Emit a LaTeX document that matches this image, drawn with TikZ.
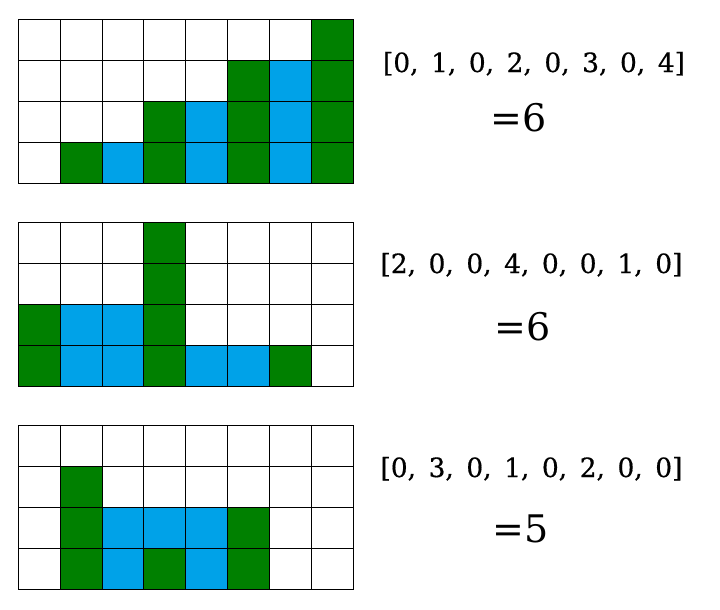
\documentclass[tikz,border=0pt]{standalone}
\usepackage{fontspec}
\setmainfont{DejaVu Serif}
\newfontfamily\heavyserif{DejaVu Serif}[FakeBold=0.5]
\definecolor{wallgreen}{HTML}{008000}
\definecolor{waterblue}{HTML}{00A2E8}
\newcommand\cellw{41.875}
\newcommand\cellh{41}
\newcommand\gridleft{18.3}
\newcommand\listfont{\heavyserif\fontsize{26.5}{30}\selectfont}
\newcommand\sumfont{\fontsize{38}{44}\selectfont}
\newcommand\widelist[1]{\begingroup\spaceskip=12.5pt\relax #1\endgroup}
% #1 = top y, #2 = list of green/blue heights per column
\newcommand\drawtank[2]{%
  \foreach \g/\b [count=\i from 0] in {#2}{%
    \pgfmathsetmacro\xa{\gridleft+\i*\cellw}%
    \pgfmathsetmacro\ybot{#1+4*\cellh}%
    \ifnum\g>0
      \fill[wallgreen] (\xa,\ybot) rectangle ++(\cellw,-\g*\cellh);
    \fi
    \ifnum\b>0
      \fill[waterblue] (\xa,\ybot-\g*\cellh) rectangle ++(\cellw,-\b*\cellh);
    \fi
  }%
  \foreach \i in {0,...,7}{%
    \foreach \j in {0,...,3}{%
      \draw[gridline] (\gridleft+\i*\cellw,#1+\j*\cellh) rectangle ++(\cellw,\cellh);
    }%
  }%
}
\begin{document}
\begin{tikzpicture}[x=1pt,y=-1pt,
  gridline/.style={draw=black,line width=1pt},
  listtext/.style={inner sep=0pt,anchor=base,font=\listfont},
  sumtext/.style={inner sep=0pt,anchor=base,font=\sumfont}]
\useasboundingbox[fill=white] (0,0) rectangle (720,610);

\drawtank{19.3}{0/0,1/0,0/1,2/0,0/2,3/0,0/3,4/0}
\drawtank{222.3}{2/0,0/2,0/2,4/0,0/1,0/1,1/0,0/0}
\drawtank{425}{0/0,3/0,0/2,1/1,0/2,2/0,0/0,0/0}

\node[listtext] (list1) at (534,72) {\widelist{[0, 1, 0, 2, 0, 3, 0, 4]}};
\node[sumtext] (sum1) at (519,131) {=6};
\node[listtext] (list2) at (531.5,273) {\widelist{[2, 0, 0, 4, 0, 0, 1, 0]}};
\node[sumtext] (sum2) at (523,340) {=6};
\node[listtext] (list3) at (531.5,477) {\widelist{[0, 3, 0, 1, 0, 2, 0, 0]}};
\node[sumtext] (sum3) at (521,542) {=5};
\end{tikzpicture}
\end{document}
